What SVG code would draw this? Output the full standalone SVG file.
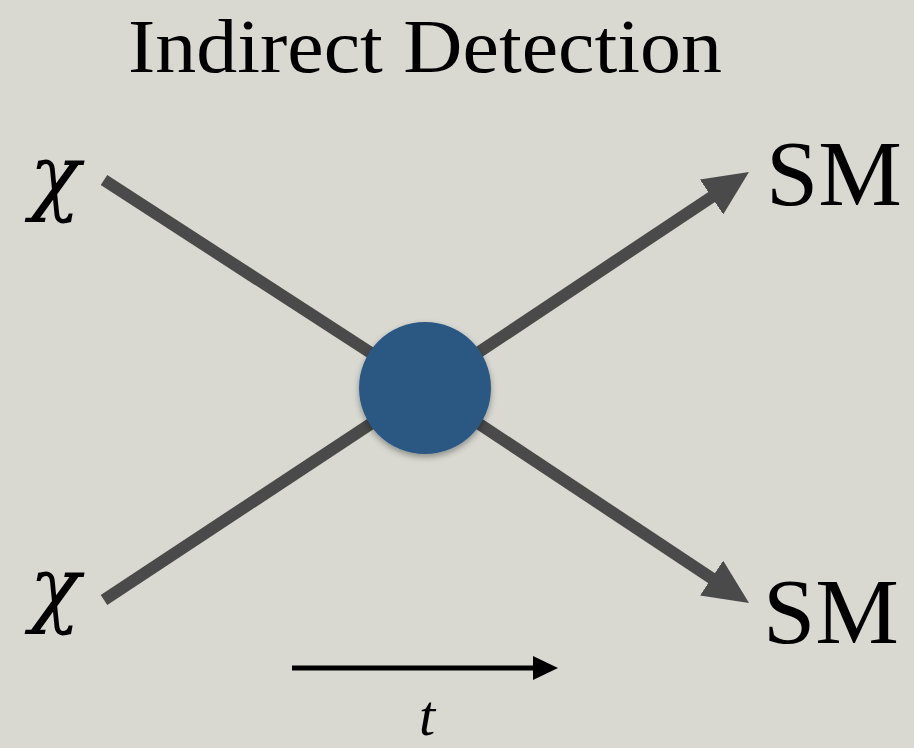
<svg xmlns="http://www.w3.org/2000/svg" width="914" height="748" viewBox="0 0 914 748">
  <defs>
    <style>
      .lbl { font-family: "Liberation Serif", "Times New Roman", serif; fill: #000; }
      .it { font-style: italic; }
      .chi { font-family: "DejaVu Serif", "Liberation Serif", serif; font-style: italic; fill: #000; }
      .leg { stroke: #4a4a4a; stroke-width: 12; fill: none; }
      .time { stroke: #000; stroke-width: 5; fill: none; }
    </style>
    <marker id="ah" markerUnits="userSpaceOnUse" markerWidth="45" markerHeight="42" viewBox="0 0 45 42" refX="2" refY="21" orient="auto">
      <path d="M0,0 L45,21 L0,42 z" fill="#4a4a4a"/>
    </marker>
    <marker id="ta" markerUnits="userSpaceOnUse" markerWidth="25" markerHeight="24" viewBox="0 0 25 24" refX="2" refY="12" orient="auto">
      <path d="M0,0 L25,12 L0,24 z" fill="#000"/>
    </marker>
    <filter id="sh" x="-30%" y="-30%" width="160%" height="160%">
      <feDropShadow dx="0" dy="3" stdDeviation="3" flood-color="#000" flood-opacity="0.35"/>
    </filter>
  </defs>
  <rect width="914" height="748" fill="#d9d9d2"/>

  <g id="title">
    <text class="lbl" x="425" y="72" font-size="76" text-anchor="middle" textLength="594" lengthAdjust="spacingAndGlyphs">Indirect Detection</text>
  </g>

  <g id="connectors">
    <line class="leg" x1="104" y1="180" x2="425" y2="388"/>
    <line class="leg" x1="104" y1="600" x2="425" y2="388"/>
    <line class="leg" x1="425" y1="388" x2="713.2" y2="195.9" marker-end="url(#ah)"/>
    <line class="leg" x1="425" y1="388" x2="713.2" y2="579.2" marker-end="url(#ah)"/>
    <line class="time" x1="292" y1="668" x2="535" y2="668" marker-end="url(#ta)"/>
  </g>

  <g id="vertex">
    <circle cx="425" cy="388" r="66" fill="#2b5882" filter="url(#sh)"/>
  </g>

  <g id="chi-in-top">
    <text class="chi" x="55" y="204" font-size="84" text-anchor="middle">χ</text>
  </g>
  <g id="chi-in-bottom">
    <text class="chi" x="55" y="616" font-size="84" text-anchor="middle">χ</text>
  </g>
  <g id="sm-out-top">
    <text class="lbl" x="766" y="205" font-size="94">SM</text>
  </g>
  <g id="sm-out-bottom">
    <text class="lbl" x="763" y="643" font-size="94">SM</text>
  </g>
  <g id="time-label">
    <text class="lbl it" x="427" y="735" font-size="58" text-anchor="middle">t</text>
  </g>
</svg>
